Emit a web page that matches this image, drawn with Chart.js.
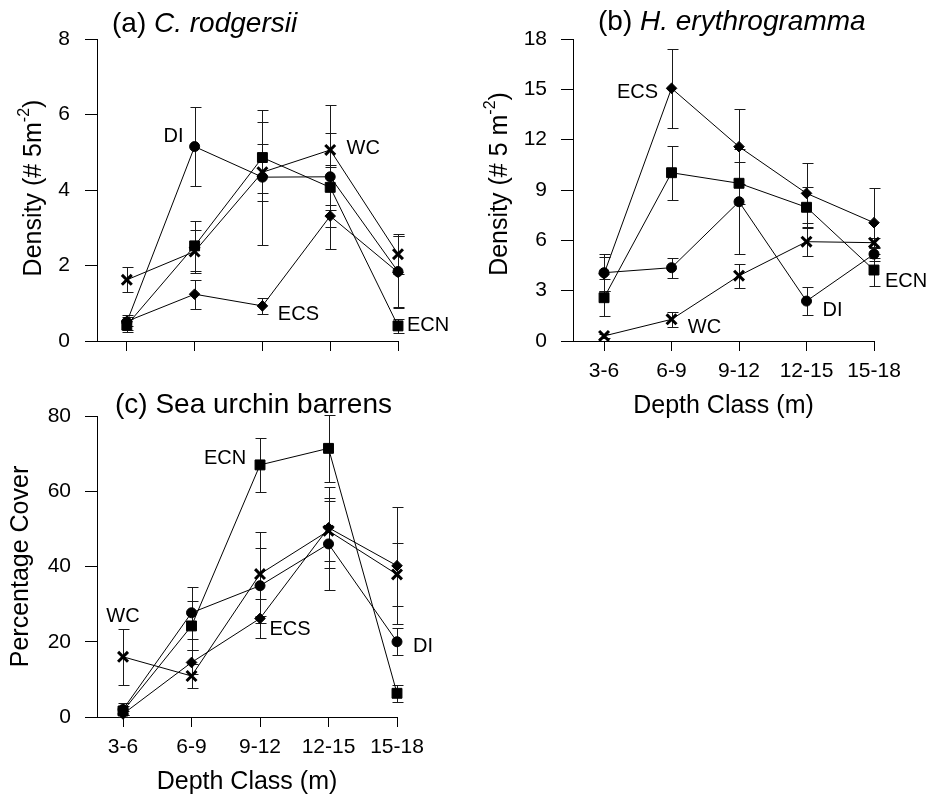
<!DOCTYPE html>
<html><head><meta charset="utf-8">
<script src="https://cdn.jsdelivr.net/npm/chart.js@4.4.1/dist/chart.umd.min.js"></script>
<style>
html,body{margin:0;padding:0;background:#fff;width:929px;height:799px;overflow:hidden}
.box{position:absolute}
canvas{display:block}
</style></head><body>
<div class="box" style="left:0;top:0;width:470px;height:385px"><canvas id="cA" width="470" height="385"></canvas></div>
<div class="box" style="left:470px;top:0;width:459px;height:430px"><canvas id="cB" width="459" height="430"></canvas></div>
<div class="box" style="left:0;top:385px;width:470px;height:414px"><canvas id="cC" width="470" height="414"></canvas></div>
<script>
// ---------- DATA ----------
const depthClasses = ['3-6', '6-9', '9-12', '12-15', '15-18'];
const seriesNames = ['DI', 'ECN', 'ECS', 'WC'];

// (a) C. rodgersii  density (# 5 m^-2), mean and error
const rodgersiiDI    = [0.50, 5.15, 4.34, 4.35, 1.84];
const rodgersiiDIErr = [0.20, 1.04, 1.79, 1.90, 0.93];
const rodgersiiECN    = [0.42, 2.52, 4.86, 4.07, 0.40];
const rodgersiiECNErr = [0.17, 0.66, 0.93, 0.60, 0.18];
const rodgersiiECS    = [0.52, 1.24, 0.93, 3.31, 1.82];
const rodgersiiECSErr = [0.12, 0.38, 0.22, 0.30, 0.95];
const rodgersiiWC    = [1.62, 2.37, 4.47, 5.06, 2.30];
const rodgersiiWCErr = [0.33, 0.58, 0.75, 0.46, 0.53];

// (b) H. erythrogramma density
const erythroDI    = [4.07, 4.37, 8.30, 2.38, 5.18];
const erythroDIErr = [1.10, 0.60, 3.12, 0.86, 0.40];
const erythroECN    = [2.58, 10.03, 9.40, 7.97, 4.23];
const erythroECNErr = [1.09, 1.62, 1.25, 1.20, 0.95];
const erythroECS    = [4.00, 15.06, 11.58, 8.80, 7.05];
const erythroECSErr = [1.03, 2.37, 2.25, 1.79, 2.09];
const erythroWC    = [0.30, 1.29, 3.89, 5.92, 5.86];
const erythroWCErr = [0.10, 0.46, 0.72, 0.84, 0.30];

// (c) Sea urchin barrens, percentage cover
const barrensDI    = [2.0, 27.7, 34.9, 46.0, 20.0];
const barrensDIErr = [1.6, 6.9, 9.9, 12.2, 3.6];
const barrensECN    = [1.6, 24.2, 67.0, 71.4, 6.3];
const barrensECNErr = [1.2, 6.5, 7.2, 8.9, 2.2];
const barrensECS    = [0.8, 14.5, 26.2, 50.3, 40.2];
const barrensECSErr = [0.8, 3.2, 5.1, 10.8, 15.6];
const barrensWC    = [16.0, 10.9, 38.0, 49.5, 37.9];
const barrensWCErr = [7.4, 3.3, 11.1, 8.0, 8.3];

const yTicksA = [0, 2, 4, 6, 8];
const yTicksB = [0, 3, 6, 9, 12, 15, 18];
const yTicksC = [0, 20, 40, 60, 80];

// ---------- STYLE ----------
const FONT = "Arial, 'Liberation Sans', Helvetica, sans-serif";
const markerStyle = {
  DI:  {pointStyle: 'circle',   pointRadius: 5,   pointBorderWidth: 1},
  ECN: {pointStyle: 'rect',     pointRadius: 7,   pointBorderWidth: 1},
  ECS: {pointStyle: 'rectRot',  pointRadius: 5.3, pointBorderWidth: 1},
  WC:  {pointStyle: 'crossRot', pointRadius: 7,   pointBorderWidth: 3}
};

function buildDatasets(values, errors, tags) {
  return seriesNames.map((name, i) => Object.assign({
    label: name,
    data: values[i].map((v, k) => ({x: k, y: v})),
    errors: errors[i],
    tag: tags[name] || null,
    borderColor: '#000', backgroundColor: '#000',
    pointBackgroundColor: '#000', pointBorderColor: '#000',
    borderWidth: 1, tension: 0, clip: false
  }, markerStyle[name]));
}

const errorBarPlugin = {
  id: 'errorBars',
  beforeDatasetsDraw(chart) {
    const {ctx} = chart; const x = chart.scales.x, y = chart.scales.y;
    ctx.save(); ctx.strokeStyle = '#1a1a1a'; ctx.lineWidth = 1;
    chart.data.datasets.forEach(ds => {
      ds.data.forEach((pt, k) => {
        const e = ds.errors[k];
        const px = Math.round(x.getPixelForValue(pt.x)) + 0.5;
        const yt = Math.round(y.getPixelForValue(pt.y + e)) + 0.5;
        const yb = Math.round(y.getPixelForValue(Math.max(0, pt.y - e))) + 0.5;
        ctx.beginPath();
        ctx.moveTo(px, yt); ctx.lineTo(px, yb);
        ctx.moveTo(px - 5, yt); ctx.lineTo(px + 6, yt);
        ctx.moveTo(px - 5, yb); ctx.lineTo(px + 6, yb);
        ctx.stroke();
      });
    });
    ctx.restore();
  }
};

const tagPlugin = {
  id: 'seriesTags',
  afterDatasetsDraw(chart) {
    const {ctx} = chart; const x = chart.scales.x, y = chart.scales.y;
    ctx.save(); ctx.fillStyle = '#000'; ctx.font = '20px ' + FONT;
    ctx.textAlign = 'center'; ctx.textBaseline = 'middle';
    chart.data.datasets.forEach(ds => {
      if (!ds.tag) return;
      const pt = ds.data[ds.tag.at];
      ctx.fillText(ds.label, x.getPixelForValue(pt.x) + ds.tag.dx, y.getPixelForValue(pt.y) + ds.tag.dy);
    });
    ctx.restore();
  }
};

function textPlugin(cfg) {
  return {
    id: 'texts',
    afterDraw(chart) {
      const {ctx} = chart;
      ctx.save(); ctx.fillStyle = '#000';
      if (cfg.title) {
        let xx = cfg.title.x;
        ctx.textBaseline = 'alphabetic'; ctx.textAlign = 'left';
        cfg.title.parts.forEach(p => {
          ctx.font = (p.italic ? 'italic ' : '') + '28px ' + FONT;
          ctx.fillText(p.t, xx, cfg.title.y);
          xx += ctx.measureText(p.t).width;
        });
      }
      if (cfg.ytitle) {
        const yt = cfg.ytitle;
        ctx.translate(yt.x, yt.y); ctx.rotate(-Math.PI / 2);
        ctx.textBaseline = 'middle'; ctx.textAlign = 'left';
        const main = '25px ' + FONT, sup = '16px ' + FONT;
        ctx.font = main; const w1 = ctx.measureText(yt.a).width; const w3 = ctx.measureText(yt.c).width;
        ctx.font = sup; const w2 = ctx.measureText(yt.sup).width;
        let xx = -(w1 + w2 + w3) / 2;
        ctx.font = main; ctx.fillText(yt.a, xx, 0); xx += w1;
        ctx.font = sup; ctx.fillText(yt.sup, xx, -9); xx += w2;
        ctx.font = main; ctx.fillText(yt.c, xx, 0);
      }
      ctx.restore();
    }
  };
}

function makeChart(id, opt) {
  const tickFont = {family: FONT, size: 21};
  new Chart(document.getElementById(id), {
    type: 'line',
    data: {datasets: opt.datasets},
    options: {
      responsive: false, animation: false, events: [],
      layout: {padding: opt.padding},
      plugins: {legend: {display: false}, tooltip: {enabled: false}},
      scales: {
        x: {
          type: 'linear', min: opt.xmin, max: depthClasses.length - 1,
          afterBuildTicks: s => { s.ticks = depthClasses.map((_, i) => ({value: i})); },
          afterFit: s => { s.height = opt.xh; },
          ticks: {
            color: '#000', font: tickFont, padding: 8, maxRotation: 0, autoSkip: false,
            callback: v => opt.xlabels ? (depthClasses[v] ?? '') : ''
          },
          grid: {drawOnChartArea: false, drawTicks: true, tickLength: 10, color: '#000', lineWidth: 1},
          border: {display: true, color: '#000', width: 1},
          title: {display: !!opt.xtitle, text: opt.xtitle || '', color: '#000',
                  font: {family: FONT, size: 25}, padding: {top: 0, bottom: opt.xtitlePad || 0}}
        },
        y: {
          type: 'linear', min: opt.yticks[0], max: opt.yticks[opt.yticks.length - 1],
          afterBuildTicks: s => { s.ticks = opt.yticks.map(v => ({value: v})); },
          afterFit: s => { s.width = opt.yw; },
          ticks: {color: '#000', font: tickFont, padding: opt.ytickPad},
          grid: {drawOnChartArea: false, drawTicks: true, tickLength: 12, color: '#000', lineWidth: 1},
          border: {display: true, color: '#000', width: 1},
          title: {display: !!opt.ytitle, text: opt.ytitle || '', color: '#000',
                  font: {family: FONT, size: 25}, padding: {top: opt.ytitlePad || 0, bottom: 0}}
        }
      }
    },
    plugins: [errorBarPlugin, tagPlugin, textPlugin(opt.texts)]
  });
}

// (a)
makeChart('cA', {
  datasets: buildDatasets(
    [rodgersiiDI, rodgersiiECN, rodgersiiECS, rodgersiiWC],
    [rodgersiiDIErr, rodgersiiECNErr, rodgersiiECSErr, rodgersiiWCErr],
    {DI: {at: 1, dx: -21, dy: -10}, WC: {at: 3, dx: 33, dy: -2}, ECS: {at: 2, dx: 36, dy: 9}, ECN: {at: 4, dx: 30, dy: 0}}),
  padding: {top: 39, right: 72, bottom: 0, left: 0},
  yw: 97, xh: 44, xmin: -0.44, yticks: yTicksA, ytickPad: 15, xlabels: false,
  texts: {
    title: {x: 112, y: 32, parts: [{t: '(a) '}, {t: 'C. rodgersii', italic: true}]},
    ytitle: {x: 34, y: 188, a: 'Density (# 5m', sup: '-2', c: ')'}
  }
});

// (b)
makeChart('cB', {
  datasets: buildDatasets(
    [erythroDI, erythroECN, erythroECS, erythroWC],
    [erythroDIErr, erythroECNErr, erythroECSErr, erythroWCErr],
    {ECS: {at: 1, dx: -34, dy: 4}, ECN: {at: 4, dx: 32, dy: 11}, DI: {at: 3, dx: 26, dy: 9}, WC: {at: 1, dx: 33, dy: 8}}),
  padding: {top: 39, right: 55, bottom: 0, left: 0},
  yw: 103, xh: 89, xmin: -0.46, yticks: yTicksB, ytickPad: 14, xlabels: true,
  xtitle: 'Depth Class (m)', xtitlePad: 9,
  texts: {
    title: {x: 128, y: 30, parts: [{t: '(b) '}, {t: 'H. erythrogramma', italic: true}]},
    ytitle: {x: 30, y: 184, a: 'Density (# 5 m', sup: '-2', c: ')'}
  }
});

// (c)
makeChart('cC', {
  datasets: buildDatasets(
    [barrensDI, barrensECN, barrensECS, barrensWC],
    [barrensDIErr, barrensECNErr, barrensECSErr, barrensWCErr],
    {WC: {at: 0, dx: 0, dy: -40}, ECN: {at: 2, dx: -35, dy: -6}, ECS: {at: 2, dx: 30, dy: 11}, DI: {at: 4, dx: 26, dy: 5}}),
  padding: {top: 31, right: 73, bottom: 0, left: 0},
  yw: 97, xh: 82, xmin: -0.38, yticks: yTicksC, ytickPad: 14, xlabels: true,
  xtitle: 'Depth Class (m)', xtitlePad: 2,
  ytitle: 'Percentage Cover', ytitlePad: 6,
  texts: {
    title: {x: 115, y: 28, parts: [{t: '(c) Sea urchin barrens'}]}
  }
});
</script>
</body></html>
